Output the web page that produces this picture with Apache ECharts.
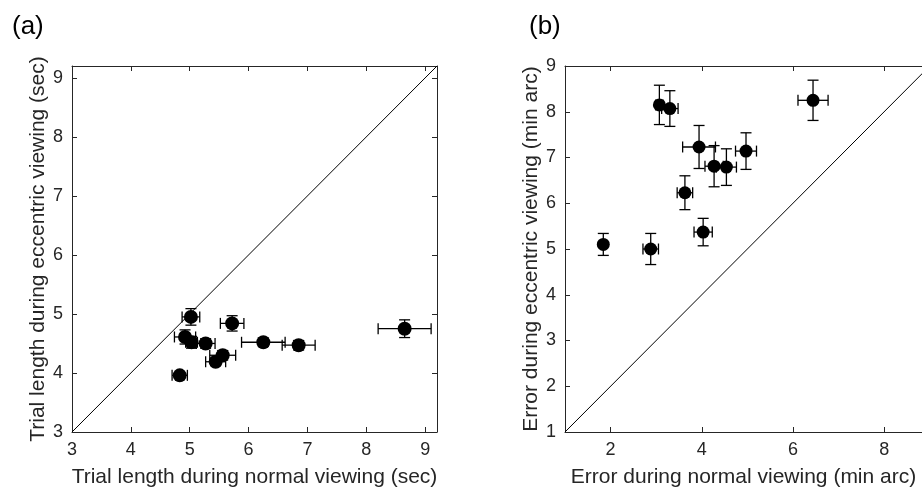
<!DOCTYPE html>
<html>
<head>
<meta charset="utf-8">
<script src="https://cdn.jsdelivr.net/npm/echarts@6/dist/echarts.min.js"></script>
<style>
  html, body { margin: 0; padding: 0; background: #fff; }
  #main { width: 922px; height: 491px; }
</style>
</head>
<body>
<div id="main"></div>
<script>
'use strict';

// panel (a): trial length (sec)
var trialNormal       = [5.02, 5.72, 4.92, 5.03, 5.27, 6.25, 6.85, 8.65, 5.56, 5.44, 4.83];
var trialNormalErr    = [0.15, 0.20, 0.18, 0.10, 0.16, 0.37, 0.28, 0.45, 0.22, 0.17, 0.13];
var trialEccentric    = [4.95, 4.84, 4.61, 4.52, 4.50, 4.52, 4.47, 4.75, 4.30, 4.19, 3.96];
var trialEccentricErr = [0.14, 0.13, 0.12, 0.10, 0.08, 0.07, 0.08, 0.15, 0.08, 0.06, 0.04];

// panel (b): error (min arc)
var errorNormal       = [1.84, 2.88, 4.03, 3.63, 3.07, 3.30, 3.94, 4.27, 4.54, 4.97, 6.44];
var errorNormalErr    = [0.05, 0.17, 0.20, 0.17, 0.08, 0.18, 0.36, 0.20, 0.22, 0.23, 0.33];
var errorEccentric    = [5.10, 5.00, 5.37, 6.23, 8.15, 8.07, 7.23, 6.81, 6.79, 7.14, 8.25];
var errorEccentricErr = [0.24, 0.34, 0.30, 0.37, 0.43, 0.39, 0.47, 0.45, 0.40, 0.40, 0.44];

var ticksA = [3, 4, 5, 6, 7, 8, 9];
var ticksBx = [2, 4, 6, 8];
var ticksBy = [1, 2, 3, 4, 5, 6, 7, 8, 9];

var textColor = '#262626';
var fontFamily = '"Liberation Sans", Arial, sans-serif';

function zip(xs, ys) {
    return xs.map(function(v, i){ return [v, ys[i]]; });
}
function zipErr(xs, ys, ex, ey) {
    return xs.map(function(v, i){ return [v, ys[i], ex[i], ey[i]]; });
}

function errorBars(params, api) {
    var x = api.value(0), y = api.value(1), ex = api.value(2), ey = api.value(3);
    var l = api.coord([x - ex, y]), r = api.coord([x + ex, y]);
    var t = api.coord([x, y + ey]), b = api.coord([x, y - ey]);
    var cap = 5.5;
    var st = { stroke: '#000', lineWidth: 1.3 };
    var seg = function(x1, y1, x2, y2){
        return { type: 'line', shape: { x1: x1, y1: y1, x2: x2, y2: y2 }, style: st };
    };
    return {
        type: 'group',
        children: [
            seg(l[0], l[1], r[0], r[1]),
            seg(l[0], l[1] - cap, l[0], l[1] + cap),
            seg(r[0], r[1] - cap, r[0], r[1] + cap),
            seg(t[0], t[1], b[0], b[1]),
            seg(t[0] - cap, t[1], t[0] + cap, t[1]),
            seg(b[0] - cap, b[1], b[0] + cap, b[1])
        ]
    };
}

function mainAxis(gridIndex, position, min, max, ticks, name, nameGap) {
    return {
        type: 'value', gridIndex: gridIndex, position: position,
        min: min, max: max,
        name: name, nameLocation: 'middle', nameGap: nameGap,
        nameTextStyle: { color: textColor, fontSize: 21, fontFamily: fontFamily },
        axisLine: { show: true, lineStyle: { color: textColor, width: 1 } },
        axisTick: { show: true, inside: true, length: 5, customValues: ticks, lineStyle: { color: textColor } },
        axisLabel: { show: true, customValues: ticks, margin: 9, color: textColor, fontSize: 18, fontFamily: fontFamily },
        splitLine: { show: false }
    };
}

function boxAxis(gridIndex, position, min, max, ticks) {
    return {
        type: 'value', gridIndex: gridIndex, position: position,
        min: min, max: max,
        axisLine: { show: true, lineStyle: { color: textColor, width: 1 } },
        axisTick: { show: true, inside: true, length: 5, customValues: ticks, lineStyle: { color: textColor } },
        axisLabel: { show: false },
        splitLine: { show: false }
    };
}

var myChart = echarts.init(document.getElementById('main'));

var option = {
    backgroundColor: '#fff',
    animation: false,
    title: [
        { text: '(a)', left: 7, top: 9, textStyle: { fontSize: 26, fontWeight: 'normal', color: '#000', fontFamily: fontFamily } },
        { text: '(b)', left: 524, top: 9, textStyle: { fontSize: 26, fontWeight: 'normal', color: '#000', fontFamily: fontFamily } }
    ],
    grid: [
        { left: 72, top: 66, width: 365, height: 366, outerBoundsMode: 'none' },
        { left: 565, top: 66, width: 357, height: 366, outerBoundsMode: 'none' }
    ],
    xAxis: [
        mainAxis(0, 'bottom', 3, 9.2, ticksA, 'Trial length during normal viewing (sec)', 35),
        boxAxis(0, 'top', 3, 9.2, ticksA),
        mainAxis(1, 'bottom', 1, 8.83, ticksBx, 'Error during normal viewing (min arc)', 35),
        boxAxis(1, 'top', 1, 8.83, ticksBx)
    ],
    yAxis: [
        mainAxis(0, 'left', 3, 9.2, ticksA, 'Trial length during eccentric viewing (sec)', 23),
        boxAxis(0, 'right', 3, 9.2, ticksA),
        mainAxis(1, 'left', 1, 9, ticksBy, 'Error during eccentric viewing (min arc)', 22)
    ],
    series: [
        {
            type: 'line', xAxisIndex: 0, yAxisIndex: 0,
            data: [[3, 3], [9.2, 9.2]], symbol: 'none',
            lineStyle: { color: '#000', width: 1 }, silent: true
        },
        {
            type: 'custom', xAxisIndex: 0, yAxisIndex: 0,
            renderItem: errorBars, encode: { x: 0, y: 1 },
            data: zipErr(trialNormal, trialEccentric, trialNormalErr, trialEccentricErr)
        },
        {
            type: 'scatter', xAxisIndex: 0, yAxisIndex: 0,
            symbolSize: 14, itemStyle: { color: '#000', opacity: 1 },
            data: zip(trialNormal, trialEccentric)
        },
        {
            type: 'line', xAxisIndex: 2, yAxisIndex: 2,
            data: [[1, 1], [9, 9]], symbol: 'none', clip: true,
            lineStyle: { color: '#000', width: 1 }, silent: true
        },
        {
            type: 'custom', xAxisIndex: 2, yAxisIndex: 2,
            renderItem: errorBars, encode: { x: 0, y: 1 },
            data: zipErr(errorNormal, errorEccentric, errorNormalErr, errorEccentricErr)
        },
        {
            type: 'scatter', xAxisIndex: 2, yAxisIndex: 2,
            symbolSize: 13, itemStyle: { color: '#000', opacity: 1 },
            data: zip(errorNormal, errorEccentric)
        }
    ]
};

myChart.setOption(option);
</script>
</body>
</html>
